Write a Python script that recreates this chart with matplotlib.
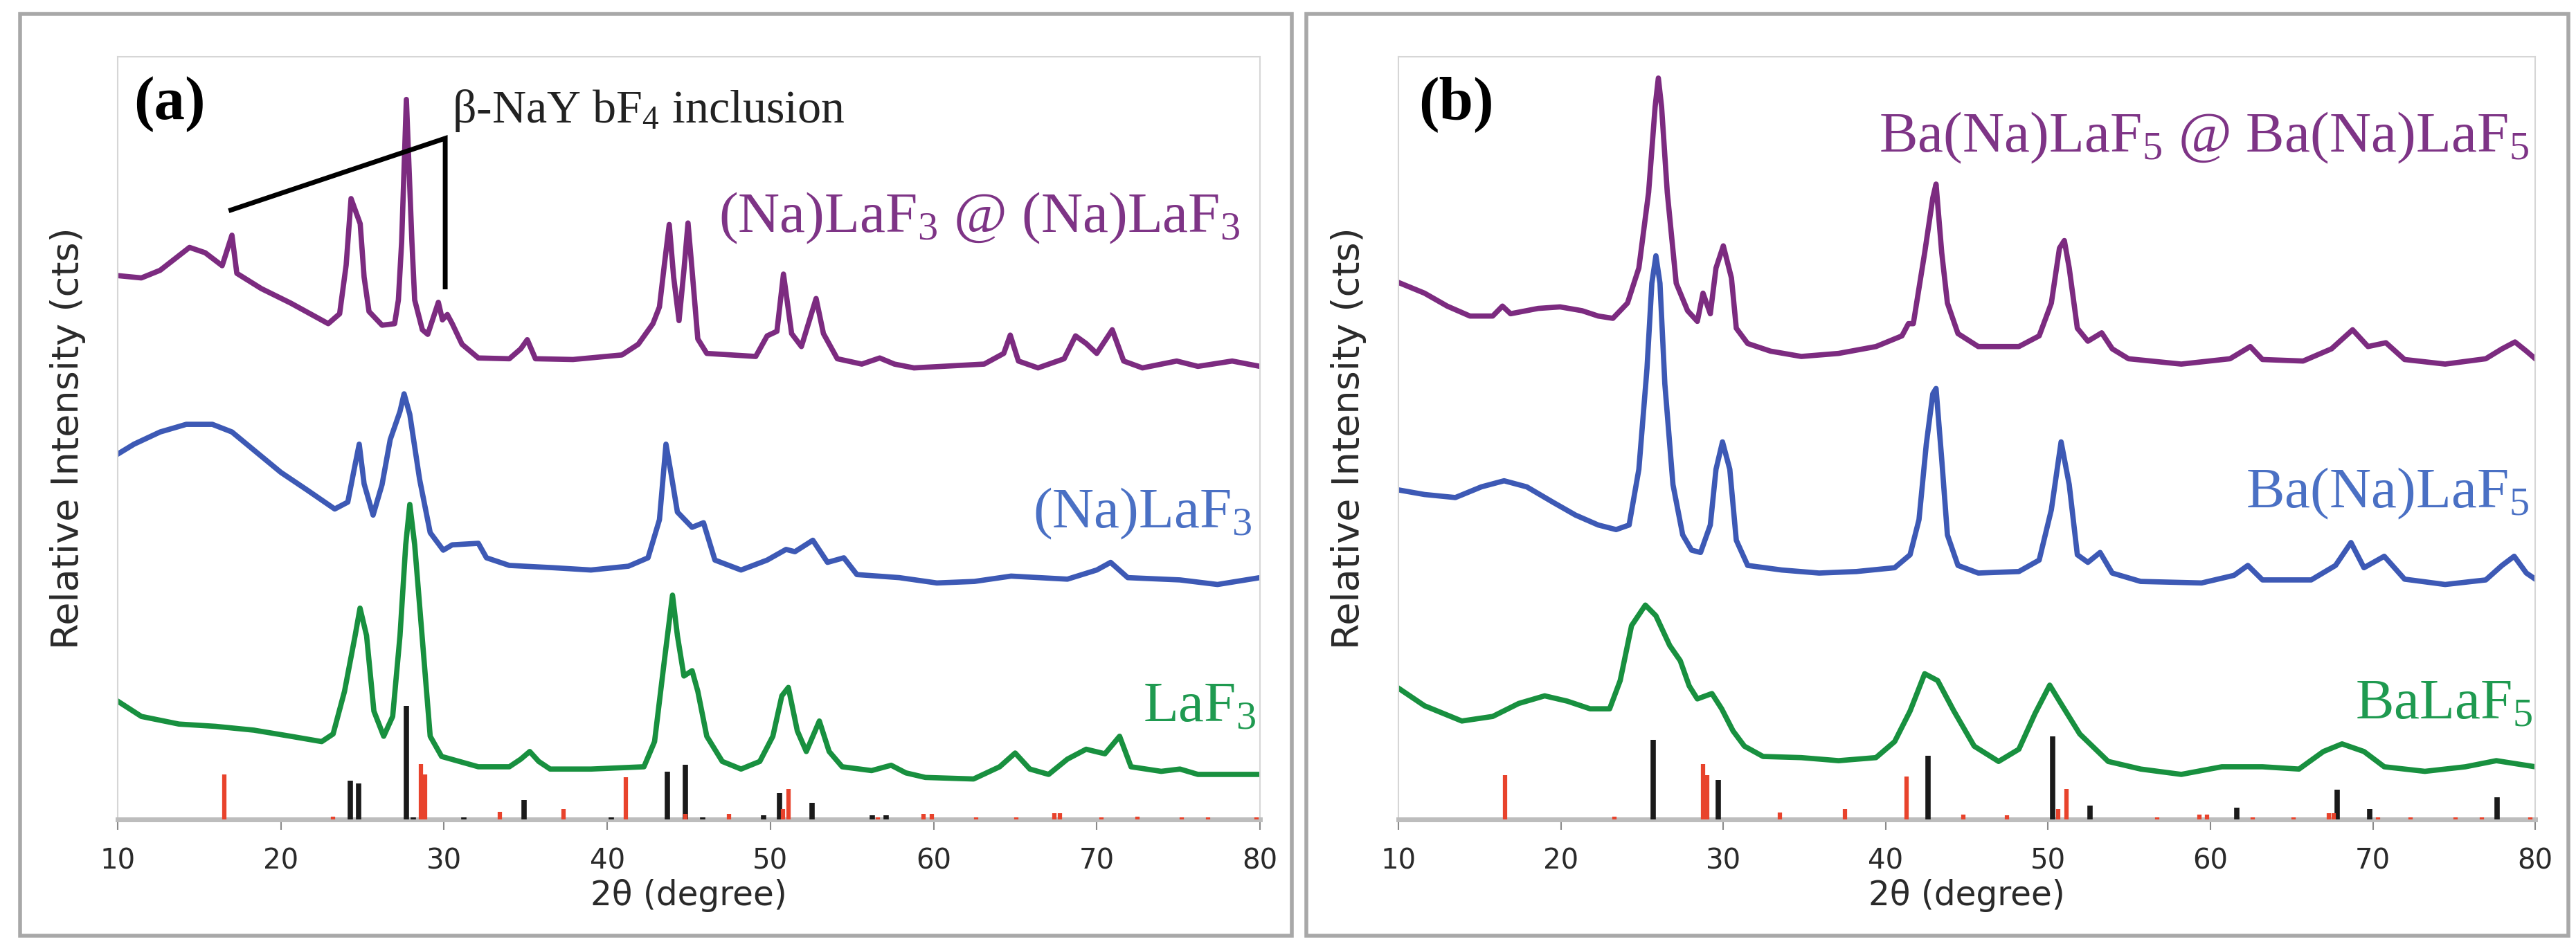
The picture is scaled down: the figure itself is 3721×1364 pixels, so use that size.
import matplotlib
matplotlib.use("Agg")
import matplotlib.pyplot as plt
from matplotlib.patches import Rectangle

plt.rcParams["font.family"] = ["DejaVu Sans"]
plt.rcParams["mathtext.fontset"] = "custom"
plt.rcParams["mathtext.rm"] = "Liberation Serif"
plt.rcParams["mathtext.it"] = "Liberation Serif:italic"
plt.rcParams["mathtext.bf"] = "Liberation Serif:bold"

# ---------------- panel (a) patterns (2theta, relative intensity with offsets) ----------------
a_nalaf3_core_x = [10, 11.45, 12.6, 14.4, 15.36, 16.4, 17.0, 17.3, 18.8, 20.6, 22.9, 23.6, 24.0, 24.3,
                   24.86, 25.1, 25.4, 26.2, 26.97, 27.2, 27.4, 27.69, 28.03, 28.2, 28.67, 29.0, 29.65,
                   29.9, 30.2, 30.5, 31.1, 32.1, 34.0, 34.7, 35.1, 35.6, 37.9, 40.9, 41.9, 42.8, 43.2,
                   43.5, 43.8, 44.07, 44.4, 44.7, 44.95, 45.2, 45.55, 46.1, 49.1, 49.8, 50.4, 50.8,
                   51.3, 51.9, 52.8, 53.25, 54.1, 55.6, 56.7, 57.6, 58.8, 63.1, 64.3, 64.7, 65.2, 66.4,
                   68.0, 68.7, 69.35, 70.0, 70.95, 71.65, 72.8, 74.9, 76.2, 78.3, 80.0]
a_nalaf3_core_y = [71.3, 71.0, 72.0, 75.0, 74.3, 72.6, 76.6, 71.6, 69.6, 67.7, 65.0, 66.3, 72.7, 81.4,
                   78.1, 71.1, 66.6, 64.8, 65.0, 68.1, 75.7, 94.4, 75.7, 68.1, 64.2, 63.6, 67.8,
                   65.5, 66.2, 65.0, 62.3, 60.5, 60.4, 61.7, 62.9, 60.4, 60.3, 60.9, 62.3, 65.0, 67.2,
                   72.7, 78.0, 71.1, 65.4, 72.0, 78.2, 72.0, 63.0, 61.1, 60.7, 63.4, 64.0, 71.5,
                   63.7, 62.0, 68.3, 63.7, 60.4, 59.7, 60.5, 59.7, 59.2, 59.7, 61.1, 63.5, 60.1, 59.2,
                   60.4, 63.4, 62.4, 61.1, 64.2, 60.1, 59.2, 60.1, 59.4, 60.1, 59.4]

a_nalaf3_x = [10, 11, 12.6, 14.2, 15.8, 17.0, 18.3, 20.0, 21.6, 23.3, 24.1, 24.5, 24.8, 25.1, 25.65,
              26.2, 26.7, 27.3, 27.55, 27.9, 28.5, 29.15, 29.95, 30.5, 32.1, 32.6, 34.0, 36.7, 39.0,
              41.3, 42.5, 43.2, 43.6, 43.9, 44.3, 45.2, 45.9, 46.6, 48.2, 49.8, 50.96, 51.5, 52.6,
              53.5, 54.5, 55.3, 57.9, 60.2, 62.5, 64.75, 68.2, 70.0, 70.85, 71.9, 75.1, 77.4, 80.0]
a_nalaf3_y = [47.9, 49.2, 50.8, 51.8, 51.8, 50.8, 48.5, 45.5, 43.2, 40.7, 41.6, 46.0, 49.2, 44.0, 39.9,
              43.9, 49.8, 53.5, 55.8, 53.1, 44.6, 37.6, 35.3, 36.0, 36.2, 34.3, 33.3, 33.0, 32.7,
              33.2, 34.3, 39.3, 49.2, 45.5, 40.3, 38.3, 38.9, 34.0, 32.7, 34.0, 35.4, 35.1, 36.6,
              33.7, 34.3, 32.1, 31.7, 31.0, 31.2, 31.9, 31.5, 32.7, 33.7, 31.7, 31.4, 30.8, 31.7]

a_laf3_x = [10, 11.45, 13.75, 16.0, 18.35, 20.6, 22.5, 23.2, 23.9, 24.55, 24.85, 25.25, 25.7, 26.3,
            26.85, 27.3, 27.65, 27.9, 28.2, 28.7, 29.15, 29.85, 32.1, 34.0, 34.7, 35.25, 35.8, 36.5,
            39.0, 42.25, 42.9, 43.5, 44.0, 44.3, 44.7, 45.2, 45.55, 46.1, 47.05, 48.2, 49.35, 50.15,
            50.7, 51.1, 51.65, 52.2, 53.0, 53.6, 54.4, 56.2, 57.4, 58.3, 59.5, 62.45, 64.05, 65.0,
            65.9, 67.05, 68.2, 69.35, 70.5, 71.4, 72.1, 73.95, 75.1, 76.2, 80.0]
a_laf3_y = [15.5, 13.5, 12.5, 12.2, 11.7, 10.9, 10.2, 11.2, 16.8, 24.1, 27.7, 24.1, 14.2, 10.9,
            13.5, 24.1, 36.0, 41.3, 36.0, 22.8, 10.9, 8.25, 6.9, 6.9, 7.9, 8.9, 7.6, 6.6,
            6.6, 6.9, 10.2, 20.8, 29.4, 24.1, 18.8, 19.5, 16.8, 10.9, 7.6, 6.6, 7.6, 10.9,
            16.2, 17.3, 11.6, 8.9, 12.9, 8.9, 6.9, 6.4, 7.1, 6.1, 5.5, 5.3, 6.9, 8.7,
            6.6, 5.9, 7.9, 9.2, 8.6, 10.9, 6.9, 6.3, 6.6, 5.9, 5.9]

# reference patterns (a)
a_ref_black_x = [24.25, 24.77, 27.69, 28.1, 31.2, 34.9, 40.25, 43.7, 44.8, 45.85, 49.6, 50.56, 52.55,
                 56.25, 57.1]
a_ref_black_h = [5.1, 4.7, 14.9, 0.3, 0.3, 2.5, 0.3, 6.3, 7.2, 0.3, 0.5, 3.4, 2.2, 0.5, 0.5]
a_ref_red_x = [16.55, 23.2, 28.6, 28.85, 33.4, 37.3, 41.15, 44.8, 47.46, 50.75, 51.1, 56.6, 59.4,
               59.9, 62.6, 65.05, 67.4, 67.75, 70.3, 72.5, 75.2, 76.8, 79.8]
a_ref_red_h = [5.9, 0.4, 7.3, 5.9, 1.0, 1.4, 5.5, 0.7, 0.7, 1.4, 4.0, 0.3, 0.7, 0.7, 0.3, 0.3, 0.8,
               0.8, 0.3, 0.4, 0.3, 0.3, 0.3]

# beta-NaYbF4 marker line (a)
a_marker_x = [16.8, 30.07, 30.07]
a_marker_y = [79.8, 89.3, 69.5]

# ---------------- panel (b) patterns ----------------
b_core_x = [10, 11.6, 13.0, 14.4, 15.8, 16.4, 16.9, 18.6, 19.95, 21.3, 22.3, 23.2, 24.1, 24.8, 25.4,
            25.8, 26.0, 26.2, 26.55, 27.1, 27.8, 28.4, 28.75, 29.2, 29.55, 30.0, 30.5, 30.8, 31.5,
            32.9, 34.8, 37.1, 39.4, 41.0, 41.4, 41.7, 42.4, 42.9, 43.1, 43.45, 43.8, 44.45, 45.7,
            48.2, 49.45, 50.2, 50.7, 51.0, 51.3, 51.8, 52.45, 53.3, 53.95, 54.95, 58.2, 61.2, 62.45,
            63.2, 65.7, 67.45, 68.75, 69.7, 70.8, 71.95, 74.45, 76.95, 77.95, 78.75, 79.45, 80.0]
b_core_y = [70.4, 69.0, 67.3, 66.0, 66.0, 67.3, 66.3, 67.0, 67.2, 66.7, 66.0, 65.7, 67.7, 72.3, 82.2,
            93.4, 97.2, 93.4, 82.2, 70.3, 66.7, 65.3, 69.0, 66.3, 72.3, 75.2, 71.0, 64.4, 62.4,
            61.4, 60.7, 61.1, 62.0, 63.4, 65.0, 65.0, 74.3, 81.5, 83.3, 74.3, 67.7, 63.7, 62.0,
            62.0, 63.4, 67.7, 74.9, 75.9, 72.3, 64.4, 62.7, 63.8, 61.7, 60.4, 59.7, 60.4, 62.0,
            60.3, 60.1, 61.7, 64.2, 62.0, 62.5, 60.3, 59.7, 60.4, 61.7, 62.6, 61.4, 60.4]

b_banalaf5_x = [10, 11.6, 13.5, 15.1, 16.5, 17.9, 19.5, 20.9, 22.3, 23.4, 24.2, 24.8, 25.3, 25.6,
                25.85, 26.1, 26.4, 26.9, 27.5, 28.05, 28.6, 29.2, 29.55, 29.95, 30.4, 30.8, 31.5,
                33.6, 35.9, 38.2, 40.55, 41.5, 42.05, 42.5, 42.9, 43.1, 43.45, 43.8, 44.45, 45.7,
                48.2, 49.45, 50.2, 50.8, 51.3, 51.8, 52.45, 53.2, 53.95, 55.7, 59.45, 61.45, 62.3,
                63.2, 66.2, 67.7, 68.65, 69.45, 70.7, 71.95, 74.45, 76.95, 77.95, 78.7, 79.45, 80.0]
b_banalaf5_y = [43.2, 42.6, 42.2, 43.6, 44.4, 43.6, 41.6, 39.9, 38.6, 38.0, 38.6, 45.9, 59.1, 70.3,
                73.9, 70.3, 57.1, 43.9, 37.3, 35.3, 35.0, 38.6, 45.9, 49.5, 45.9, 36.6, 33.3,
                32.7, 32.3, 32.5, 33.0, 34.7, 39.3, 49.2, 55.8, 56.5, 47.2, 37.3, 33.3, 32.3,
                32.5, 34.0, 40.6, 49.5, 43.9, 34.7, 33.7, 35.0, 32.3, 31.2, 31.0, 32.0, 33.3,
                31.4, 31.4, 33.3, 36.3, 33.0, 34.5, 31.5, 30.8, 31.4, 33.3, 34.5, 32.3, 31.5]

b_balaf5_x = [10, 11.6, 13.9, 15.8, 17.4, 19.0, 20.4, 21.8, 23.0, 23.65, 24.35, 25.2, 25.85, 26.7,
              27.35, 27.9, 28.4, 29.3, 29.9, 30.6, 31.3, 32.45, 34.8, 37.1, 39.4, 40.55, 41.5, 42.4,
              43.2, 44.2, 45.45, 46.95, 48.2, 49.2, 50.1, 50.7, 51.95, 53.7, 55.7, 58.2, 60.7, 63.2,
              65.45, 66.95, 68.1, 69.45, 70.7, 73.2, 75.7, 77.6, 80.0]
b_balaf5_y = [17.2, 14.9, 12.9, 13.5, 15.2, 16.2, 15.5, 14.5, 14.5, 18.2, 25.4, 28.1, 26.7, 22.8,
              20.8, 17.5, 15.8, 16.5, 14.5, 11.6, 9.6, 8.25, 8.1, 7.7, 8.1, 10.2, 14.2, 19.1,
              18.2, 14.2, 9.6, 7.6, 9.2, 13.9, 17.6, 15.5, 11.2, 7.6, 6.6, 5.9, 6.9, 6.9,
              6.6, 8.9, 9.9, 8.9, 6.9, 6.3, 6.9, 7.7, 6.9]

b_ref_black_x = [25.7, 29.7, 42.6, 50.3, 52.6, 61.6, 67.8, 69.8, 77.65]
b_ref_black_h = [10.4, 5.2, 8.3, 10.9, 1.8, 1.5, 3.9, 1.4, 2.9]
b_ref_red_x = [16.54, 23.3, 28.74, 29.0, 33.5, 37.5, 41.3, 44.8, 47.45, 50.6, 51.15, 56.7, 59.3,
               59.8, 62.6, 65.1, 67.3, 67.6, 70.3, 72.3, 75.1, 76.7, 79.7]
b_ref_red_h = [5.8, 0.4, 7.3, 5.8, 0.9, 1.4, 5.6, 0.6, 0.5, 1.4, 4.0, 0.3, 0.6, 0.6, 0.3, 0.3, 0.8,
               0.8, 0.3, 0.3, 0.3, 0.3, 0.3]

x_ticks = [10, 20, 30, 40, 50, 60, 70, 80]

PURPLE = "#7c2b80"
BLUE = "#3d59b5"
GREEN = "#18903f"
PURPLE_T = "#7e3486"
BLUE_T = "#4a70c4"
GREEN_T = "#1f9a50"
RED = "#e8432c"
BLACK = "#1a1a1a"

fig = plt.figure(figsize=(37.21, 13.64), dpi=100)

# outer panel frames
for x0, w in [(0.0078, 0.4937), (0.5071, 0.4899)]:
    fig.patches.append(Rectangle((x0, 0.0088), w, 0.9765, transform=fig.transFigure,
                                 fill=False, edgecolor="#a8a8a8", linewidth=4))

ax_a = fig.add_axes([0.0457, 0.1320, 0.4434, 0.8079])
ax_b = fig.add_axes([0.5429, 0.1320, 0.4413, 0.8079])


def style_axes(ax):
    ax.set_xlim(10, 80)
    ax.set_ylim(0, 100)
    ax.set_yticks([])
    ax.set_xticks(x_ticks)
    for side in ["left", "top", "right"]:
        ax.spines[side].set_color("#d6d6d6")
        ax.spines[side].set_linewidth(1.5)
    ax.spines["bottom"].set_color("#bdbdbd")
    ax.spines["bottom"].set_linewidth(5)
    ax.tick_params(axis="x", direction="out", length=11, width=1.5, color="#8a8a8a",
                   labelsize=29, labelcolor="#2a2a2a", pad=18)
    ax.set_xlabel("2θ (degree)", fontsize=35, color="#2a2a2a", labelpad=4)
    ax.set_ylabel("Relative Intensity (cts)", fontsize=39, color="#2a2a2a", labelpad=33)


def draw_refs(ax, bx, bh, rx, rh):
    ax.vlines(bx, 0, bh, colors=BLACK, linewidth=5.5, zorder=3)
    ax.vlines(rx, 0, rh, colors=RED, linewidth=4.5, zorder=3)


serif = ["Liberation Serif", "DejaVu Serif"]
LW = 5.5

# ---- panel (a)
style_axes(ax_a)
ax_a.plot(a_nalaf3_core_x, a_nalaf3_core_y, color=PURPLE, lw=LW)
ax_a.plot(a_nalaf3_x, a_nalaf3_y, color=BLUE, lw=LW)
ax_a.plot(a_laf3_x, a_laf3_y, color=GREEN, lw=LW)
draw_refs(ax_a, a_ref_black_x, a_ref_black_h, a_ref_red_x, a_ref_red_h)
ax_a.plot(a_marker_x, a_marker_y, color="black", lw=5, solid_capstyle="butt",
          solid_joinstyle="miter")
ax_a.text(11.0, 91.8, "(a)", family=serif, fontweight="bold", fontsize=64, va="baseline")
ax_a.text(30.5, 91.4, r"β-NaY bF$_\mathrm{4}$ inclusion", family=serif, fontsize=49,
          va="baseline", color="#222222")
ax_a.text(78.8, 77.0, r"(Na)LaF$_\mathrm{3}$ @ (Na)LaF$_\mathrm{3}$", family=serif, fontsize=60,
          ha="right", va="baseline", color=PURPLE_T)
ax_a.text(79.5, 38.3, r"(Na)LaF$_\mathrm{3}$", family=serif, fontsize=60,
          ha="right", va="baseline", color=BLUE_T)
ax_a.text(79.8, 12.9, r"LaF$_\mathrm{3}$", family=serif, fontsize=60,
          ha="right", va="baseline", color=GREEN_T)

# ---- panel (b)
style_axes(ax_b)
ax_b.plot(b_core_x, b_core_y, color=PURPLE, lw=LW)
ax_b.plot(b_banalaf5_x, b_banalaf5_y, color=BLUE, lw=LW)
ax_b.plot(b_balaf5_x, b_balaf5_y, color=GREEN, lw=LW)
draw_refs(ax_b, b_ref_black_x, b_ref_black_h, b_ref_red_x, b_ref_red_h)
ax_b.text(11.24, 91.8, "(b)", family=serif, fontweight="bold", fontsize=64, va="baseline")
ax_b.text(79.6, 87.5, r"Ba(Na)LaF$_\mathrm{5}$ @ Ba(Na)LaF$_\mathrm{5}$", family=serif,
          fontsize=60, ha="right", va="baseline", color=PURPLE_T)
ax_b.text(79.6, 40.9, r"Ba(Na)LaF$_\mathrm{5}$", family=serif, fontsize=60,
          ha="right", va="baseline", color=BLUE_T)
ax_b.text(79.85, 13.2, r"BaLaF$_\mathrm{5}$", family=serif, fontsize=60,
          ha="right", va="baseline", color=GREEN_T)

fig.savefig("out.png", dpi=100)
